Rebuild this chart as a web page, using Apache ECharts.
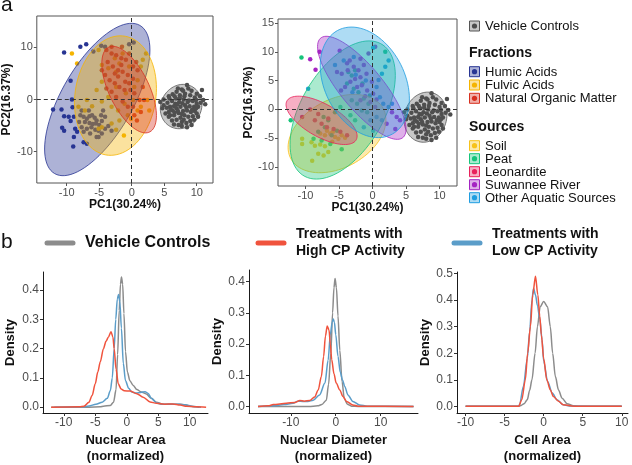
<!DOCTYPE html>
<html>
<head>
<meta charset="utf-8">
<script src="https://cdn.jsdelivr.net/npm/echarts@6.0.0/dist/echarts.min.js"></script>
<style>
  html, body { margin: 0; padding: 0; background: #fff; }
  #chart { width: 632px; height: 465px; }
</style>
</head>
<body>
<div id="chart"></div>
<script>
const FONT = "'Liberation Sans', Arial, Helvetica, sans-serif";

// ---- panel a: PCA scores (PC1, PC2) ----
const vehiclePts = [
  [8.5,2.8],[7.7,1.9],[6.9,1.5],[6.3,1.0],[5.7,0.6],[4.9,0.0],[9.2,1.7],[10.0,1.1],[10.5,0.6],[9.7,0.4],
  [9.0,0.8],[8.2,1.1],[7.4,0.8],[6.8,0.2],[6.2,-0.3],[5.5,-0.6],[4.9,-1.1],[5.9,-1.4],[6.7,-0.8],[7.3,-0.5],
  [8.0,0.0],[8.6,-0.5],[9.4,-0.3],[10.0,-0.8],[10.6,-0.6],[11.0,-0.1],[10.2,-1.4],[9.6,-1.4],[8.9,-1.3],[8.2,-1.1],
  [7.5,-1.4],[6.9,-1.7],[6.3,-2.1],[5.7,-2.4],[5.2,-2.7],[5.9,-3.0],[6.5,-3.0],[7.2,-2.6],[7.9,-2.2],[8.5,-2.1],
  [9.1,-2.4],[9.7,-2.2],[10.0,-2.7],[9.4,-3.2],[8.7,-3.3],[8.1,-3.0],[7.5,-3.5],[6.9,-3.9],[6.2,-4.0],[7.7,-4.3],
  [8.4,-4.5],[9.0,-4.1],[9.6,-3.9],[8.5,-5.3],[7.7,-5.1],[7.2,-4.9],[6.5,-4.8],[10.2,-3.3],[9.2,-4.9],[5.7,-3.3],
  [4.7,-1.7],[4.4,-0.5],[5.8,0.2],[7.9,1.7],[8.7,2.1],[7.1,2.1],[9.9,-0.1],[8.1,0.6],[6.5,-1.3],[11.3,-0.9],
  [10.8,1.8],[7.0,-0.9],[7.8,-0.7],[8.4,-1.6],[7.1,-2.2],[8.8,-0.2],[6.0,-1.9],[7.4,0.3],[9.3,-1.9],[6.6,0.6],
  [8.0,-3.9],[5.4,-1.6],[7.7,-2.8],[9.9,-1.7],[6.6,-2.5]
];

// Fractions
const humicPts = [
  [-10.4,9.0],[-7.9,10.1],[-7.0,10.6],[-9.4,3.6],[-9.2,0.0],[-9.1,-1.5],[-12.1,-1.9],[-10.8,-1.9],[-10.4,-3.2],[-9.7,-3.3],
  [-8.9,-3.3],[-10.7,-5.4],[-10.4,-6.0],[-8.7,-5.6],[-8.4,-6.2],[-8.9,-7.2],[-9.0,-9.0],[-7.4,-8.2],[-6.9,-8.5],[-9.4,-4.1],
  [-7.9,-3.0],[-7.4,-3.3],[-6.9,-3.7],[-6.5,-3.2],[-6.1,-3.0],[-5.7,-3.5],[-5.4,-4.0],[-7.2,-4.3],[-6.5,-4.5],[-6.0,-4.7],
  [-5.5,-4.6],[-5.0,-4.9],[-4.6,-4.1],[-7.7,-5.3],[-6.9,-5.6],[-6.2,-5.3],[-5.6,-5.8],[-5.1,-6.0],[-4.6,-6.5],[-4.1,-5.6],
  [-3.6,-5.1],[-3.1,-6.0],[-6.4,-6.5],[-5.4,-7.2],[-7.4,-6.2],[-8.1,-4.3],[-4.7,-3.0],[-4.1,-3.3],[-6.6,-2.1],[-7.7,-2.1],
  [-4.4,-2.1],[-5.1,-7.2],[-4.7,10.3],[-4.1,10.1],[-0.4,10.6],[0.3,10.9],[-5.9,9.2]
];
const fulvicPts = [
  [-9.2,8.8],[-8.4,6.9],[-5.1,9.5],[-4.6,6.6],[-3.6,6.0],[-2.6,7.9],[-1.9,6.9],[-1.4,8.8],[-2.4,5.3],[-4.6,3.4],
  [-5.4,1.8],[-6.9,-0.1],[-6.1,-1.3],[-4.6,-0.4],[-3.6,0.5],[-3.1,-1.4],[-2.1,-2.1],[-1.1,-0.8],[-0.6,-3.0],[-1.9,-4.0],
  [-3.1,-4.6],[-4.6,-5.3],[-5.1,-5.6],[-2.4,-5.8],[-1.2,-6.9],[-0.1,-3.7],[0.9,-2.1],[1.4,-1.4],[2.4,-0.1],[2.7,-2.1],
  [1.7,7.6],[2.2,8.8],[1.4,6.3],[-0.4,6.3],[-7.2,-2.1],[-8.2,-1.4],[-2.4,2.4],[-0.9,1.2],[0.4,2.4],[0.9,3.7],[0.2,-0.1]
];
const nomPts = [
  [-3.9,9.5],[-3.1,8.8],[-2.4,8.5],[-1.6,7.9],[-0.9,7.6],[-3.7,7.2],[-2.9,6.3],[-2.1,5.6],[-1.4,5.3],[-0.6,4.7],
  [0.2,4.0],[-4.1,4.7],[-3.4,3.7],[-2.6,3.1],[-1.9,2.4],[-1.1,1.8],[-0.4,3.1],[0.4,1.2],[1.2,-0.1],[1.4,-2.4],
  [0.4,-3.0],[-0.6,-1.4],[-1.4,-0.4],[-2.4,0.5],[-3.1,1.5],[-3.9,2.1],[-1.0,3.4],[-0.2,1.8],[-2.1,4.4],[-1.6,6.6],
  [-2.6,5.0],[0.2,6.3],[-4.6,5.6],[-3.1,10.1],[-1.5,10.1],[-0.4,8.8],[0.7,7.2],[0.9,5.6],[1.7,2.4],[1.9,-0.1],
  [0.2,-1.4],[0.8,-4.0]
];

// Sources
const soilPts = [
  [-10.5,-5.1],[-10.5,-6.0],[-9.1,-5.7],[-8.6,-6.3],[-7.8,-6.1],[-7.1,-6.4],[-8.1,-7.7],[-7.3,-8.0],[-6.6,-7.4],[-9.0,-8.9],
  [-5.6,-4.8],[-6.3,-4.2],[-7.1,-4.5],[-4.6,-4.5],[-5.1,-5.1],[-4.1,-4.9],[-6.8,-3.7],[-7.8,-4.2],[-5.9,-3.9],[-6.0,-5.6]
];
const peatPts = [
  [-10.6,9.0],[-12.2,-1.9],[-8.8,-5.1],[-7.6,-5.4],[-4.6,-6.9],[-6.3,-6.0],[-3.6,6.5],[-3.1,5.9],[-2.6,6.8],[-3.8,4.5],
  [-2.8,3.6],[-2.1,3.0],[-1.3,1.9],[-0.6,1.0],[-2.3,1.0],[-3.1,1.6],[-1.6,-0.2],[-3.3,-1.0],[-2.6,-1.9],[-4.8,0.4],
  [-5.6,-0.5],[-7.1,-3.1],[-6.6,-1.9],[-8.1,-3.9],[-0.8,-0.5],[-6.1,-4.5],[-5.3,-3.7],[-7.3,-1.3],[1.9,10.0],[-1.5,4.5],
  [-0.4,2.4]
];
const leonarditePts = [
  [-9.3,0.0],[-10.5,-1.3],[-8.6,-1.9],[-7.6,-2.5],[-6.8,-3.1],[-5.8,-3.4],[-4.8,-3.9],[-8.1,-0.8],[-6.6,-1.6],[-3.8,-4.5]
];
const suwanneePts = [
  [-9.3,8.7],[-7.9,10.0],[-8.5,6.9],[-4.9,10.2],[-3.4,8.5],[-5.3,6.5],[-4.6,6.2],[-3.7,6.8],[-2.8,7.4],[-2.1,6.8],
  [-1.3,7.7],[-0.9,6.2],[-1.8,5.6],[-2.6,5.3],[-3.3,4.8],[-4.1,3.9],[-4.7,3.3],[-2.3,3.9],[-1.6,4.2],[-0.8,3.3],
  [-0.1,4.8],[0.1,2.7],[-1.1,2.3],[-1.8,1.6],[-0.3,1.3],[0.4,0.4],[0.6,1.7],[-3.8,8.0],[-1.8,8.8],[-0.6,9.7],
  [0.4,10.9],[2.9,-0.5],[3.6,-1.3],[4.1,-1.9],[3.4,-3.4],[2.1,-2.5]
];
const otherPts = [
  [-9.6,3.6],[0.1,10.7],[2.4,8.5],[1.9,7.4],[1.4,6.2],[0.9,5.1],[0.6,3.9],[-4.3,8.5],[-2.8,9.1],[-5.6,7.7],
  [1.1,2.1],[1.6,1.0],[2.4,0.4],[2.9,1.0],[0.6,-1.3],[-0.3,-1.9],[-1.3,-3.1],[0.1,-3.7],[1.4,-1.9],[-2.5,6.0],
  [-1.0,5.0],[-3.0,3.0]
];

// confidence ellipses: [centre x, centre y, half width, half height, correlation]
const vehicleEllipseA = [7.6, -1.35, 3.2, 4.25, 0.1];
const vehicleEllipseB = [7.9, -1.35, 3.2, 4.35, 0.1];
const fractionEllipses = [
  [-5.3, 0.0, 8.1, 14.6, 0.65],
  [-2.5, 0.75, 6.3, 11.45, 0.12],
  [-0.4, 1.9, 4.2, 8.3, -0.6]
];
const sourceEllipses = [
  [-5.3, -4.2, 7.3, 6.8, 0.35],
  [-4.45, -0.1, 7.85, 12.0, 0.5],
  [-7.6, -1.9, 5.3, 4.2, -0.65],
  [-1.6, 3.75, 6.6, 8.95, -0.8],
  [-1.15, 4.7, 6.65, 9.6, -0.3]
];

const fractionNames = ['Humic Acids', 'Fulvic Acids', 'Natural Organic Matter'];
const fractionColors = ['#283593', '#f5b400', '#d7301f'];
const fractionPts = [humicPts, fulvicPts, nomPts];
const sourceNames = ['Soil', 'Peat', 'Leonardite', 'Suwannee River', 'Other Aquatic Sources'];
const sourceColors = ['#f7c21b', '#16c47a', '#e8215b', '#a424c2', '#1f9de0'];
const sourcePts = [soilPts, peatPts, leonarditePts, suwanneePts, otherPts];

// ---- panel b: density curves ([normalized value, density]) ----
const areaVehicle = [[-12,0],[-6,0],[-4.2,0.001],[-3.7,0.003],[-2.6,0.006],[-2.1,0.017],[-1.7,0.06],[-1.45,0.18],[-1.2,0.33],[-1.0,0.42],[-0.84,0.445],[-0.65,0.42],[-0.45,0.32],[-0.2,0.19],[0.1,0.12],[0.5,0.09],[1.0,0.075],[1.6,0.06],[2.3,0.052],[3.1,0.045],[3.9,0.03],[4.7,0.017],[5.8,0.01],[7,0.01],[8.4,0.01],[9.3,0.008],[10,0.003],[11.5,0]];
const areaLow = [[-11.5,0],[-7,0.001],[-6,0.004],[-4.9,0.01],[-3.9,0.017],[-3.1,0.03],[-2.6,0.057],[-2.3,0.1],[-2.0,0.2],[-1.75,0.3],[-1.5,0.37],[-1.3,0.385],[-1.1,0.36],[-0.85,0.27],[-0.55,0.15],[-0.2,0.09],[0.3,0.065],[0.8,0.052],[1.5,0.048],[2.2,0.05],[2.9,0.053],[3.4,0.047],[3.9,0.03],[4.7,0.015],[5.5,0.01],[7,0.01],[8.4,0.01],[9.5,0.007],[10.5,0.002],[11.8,0]];
const areaHigh = [[-12,0],[-7.5,0.001],[-6.8,0.003],[-6.0,0.017],[-5.5,0.04],[-5.0,0.08],[-4.6,0.12],[-4.2,0.155],[-3.7,0.2],[-3.3,0.225],[-2.9,0.24],[-2.5,0.258],[-2.2,0.24],[-2.0,0.2],[-1.7,0.13],[-1.35,0.08],[-0.9,0.062],[-0.4,0.056],[0.5,0.055],[1.6,0.046],[2.6,0.034],[3.7,0.018],[4.7,0.013],[6.0,0.01],[7.3,0.011],[8.5,0.007],[9.5,0.003],[11,0.001],[12.6,0]];

const diamVehicle = [[-17.3,0],[-6,0],[-4,0.002],[-3.1,0.006],[-2.1,0.02],[-1.6,0.07],[-1.1,0.17],[-0.7,0.3],[-0.4,0.38],[-0.15,0.41],[0.15,0.38],[0.5,0.29],[0.9,0.18],[1.4,0.08],[1.9,0.025],[2.6,0.007],[3.5,0.001],[5,0],[17.3,0]];
const diamLow = [[-17.3,0],[-14,0.002],[-11.5,0.006],[-9.5,0.01],[-8.4,0.017],[-7.3,0.016],[-6.2,0.016],[-5.0,0.02],[-3.6,0.037],[-2.4,0.075],[-1.7,0.148],[-1.2,0.23],[-0.8,0.27],[-0.55,0.28],[-0.3,0.27],[0.0,0.23],[0.5,0.16],[1.0,0.11],[1.5,0.085],[2.0,0.064],[2.7,0.037],[3.8,0.016],[5.3,0.005],[7,0.001],[17.3,0]];
const diamHigh = [[-17.3,0],[-15,0.002],[-13.9,0.006],[-11,0.01],[-9,0.013],[-8,0.019],[-7,0.017],[-5.8,0.019],[-4.7,0.03],[-3.9,0.053],[-3.2,0.096],[-2.7,0.16],[-2.3,0.225],[-1.9,0.258],[-1.5,0.245],[-1.2,0.2],[-0.9,0.15],[-0.4,0.105],[0.1,0.075],[0.9,0.053],[1.6,0.032],[2.4,0.016],[3.8,0.005],[5,0.001],[17.3,0]];

const cellVehicle = [[-10,0],[-3.2,0],[-3.0,0.002],[-2.5,0.01],[-2.1,0.025],[-1.8,0.06],[-1.5,0.1],[-1.1,0.2],[-0.8,0.3],[-0.45,0.375],[0.0,0.395],[0.5,0.375],[0.85,0.3],[1.15,0.2],[1.5,0.112],[1.9,0.062],[2.35,0.031],[3.0,0.01],[3.8,0.002],[4.5,0],[10,0]];
const cellLow = [[-10,0],[-3.3,0],[-3.1,0.005],[-2.6,0.075],[-2.1,0.18],[-1.8,0.28],[-1.5,0.4],[-1.3,0.445],[-1.05,0.42],[-0.8,0.38],[-0.5,0.33],[-0.2,0.25],[0.0,0.17],[0.5,0.094],[1.1,0.05],[1.7,0.025],[2.5,0.006],[3.5,0.001],[10,0]];
const cellHigh = [[-10,0],[-3.2,0],[-2.8,0.025],[-2.35,0.1],[-2.05,0.2],[-1.7,0.3],[-1.4,0.42],[-1.05,0.49],[-0.75,0.42],[-0.5,0.34],[-0.3,0.27],[0.0,0.18],[0.4,0.1],[0.85,0.062],[1.25,0.037],[1.9,0.019],[2.5,0.006],[3.9,0],[10,0]];

const densityNames = ['Nuclear Area\n(normalized)', 'Nuclear Diameter\n(normalized)', 'Cell Area\n(normalized)'];
const densityData = [
  [areaVehicle, areaLow, areaHigh],
  [diamVehicle, diamLow, diamHigh],
  [cellVehicle, cellLow, cellHigh]
];
const lineColors = ['#8c8c8c', '#5b9dc9', '#f0533d']; // vehicle, low CP, high CP

const pcTicksX = [-10, -5, 0, 5, 10];
const pcTicksYA = [-10, 0, 10];
const pcTicksYB = [-10, -5, 0, 5, 10, 15];
const densTicksX = [[-10, -5, 0, 5, 10], [-10, 0, 10], [-10, -5, 0, 5, 10]];
const densTicksY = [[0, 0.1, 0.2, 0.3, 0.4], [0, 0.1, 0.2, 0.3, 0.4], [0, 0.1, 0.2, 0.3, 0.4, 0.5]];

function rgba(hex, a) {
  const n = parseInt(hex.slice(1), 16);
  return 'rgba(' + (n >> 16) + ',' + ((n >> 8) & 255) + ',' + (n & 255) + ',' + a + ')';
}

function ellipseSeries(gi, params, color, fillAlpha, z) {
  return {
    type: 'custom',
    xAxisIndex: gi,
    yAxisIndex: gi,
    silent: true,
    z: z,
    data: [params],
    renderItem: function (p, api) {
      const cx = api.value(0), cy = api.value(1), hx = api.value(2), hy = api.value(3), r = api.value(4);
      const k = Math.sqrt(1 - r * r);
      const pts = [];
      for (let i = 0; i <= 90; i++) {
        const t = (i / 90) * Math.PI * 2;
        const c = Math.cos(t), s = Math.sin(t);
        pts.push(api.coord([cx + hx * c, cy + hy * (r * c + k * s)]));
      }
      return {
        type: 'polygon',
        shape: { points: pts },
        style: { fill: rgba(color, fillAlpha), stroke: color, lineWidth: 0.8 }
      };
    }
  };
}

function pointSeries(gi, data, color) {
  return {
    type: 'scatter', xAxisIndex: gi, yAxisIndex: gi, data: data,
    symbolSize: 4.5, itemStyle: { color: color, opacity: 1 }, z: 2, silent: true
  };
}

function zeroLines(gi) {
  return {
    type: 'scatter', xAxisIndex: gi, yAxisIndex: gi, data: [[0, 0]], symbolSize: 0, z: 10, silent: true,
    markLine: {
      silent: true, symbol: ['none', 'none'], label: { show: false },
      lineStyle: { color: '#333', type: [4, 3], width: 1 },
      data: [{ xAxis: 0 }, { yAxis: 0 }]
    }
  };
}

const tickLabel = { fontFamily: FONT, color: '#4d4d4d' };
const boldName = { fontFamily: FONT, fontWeight: 'bold', color: '#111' };

function pcX(gi, min, max) {
  return {
    gridIndex: gi, type: 'value', min: min, max: max,
    name: 'PC1(30.24%)', nameLocation: 'middle', nameGap: 16,
    nameTextStyle: Object.assign({ fontSize: 12 }, boldName),
    axisLine: { show: false, onZero: false },
    axisTick: { show: true, inside: false, length: 3, customValues: pcTicksX, lineStyle: { color: '#555' } },
    axisLabel: Object.assign({ customValues: pcTicksX, fontSize: 11, margin: 4 }, tickLabel),
    splitLine: { show: false }
  };
}
function pcY(gi, min, max, ticks, gap) {
  return {
    gridIndex: gi, type: 'value', min: min, max: max,
    name: 'PC2(16.37%)', nameLocation: 'middle', nameGap: gap,
    nameTextStyle: Object.assign({ fontSize: 12 }, boldName),
    axisLine: { show: false, onZero: false },
    axisTick: { show: true, inside: false, length: 3, customValues: ticks, lineStyle: { color: '#555' } },
    axisLabel: Object.assign({ customValues: ticks, fontSize: 11, margin: 4 }, tickLabel),
    splitLine: { show: false }
  };
}
function densX(gi, min, max, ticks, name) {
  return {
    gridIndex: gi, type: 'value', min: min, max: max,
    name: name, nameLocation: 'middle', nameGap: 19,
    nameTextStyle: Object.assign({ fontSize: 13, lineHeight: 16 }, boldName),
    axisLine: { show: true, onZero: false, lineStyle: { color: '#1a1a1a', width: 1 } },
    axisTick: { show: true, inside: false, length: 3, customValues: ticks, lineStyle: { color: '#333' } },
    axisLabel: Object.assign({ customValues: ticks, fontSize: 12, margin: 4 }, tickLabel),
    splitLine: { show: false }
  };
}
function densY(gi, min, max, ticks, gap) {
  return {
    gridIndex: gi, type: 'value', min: min, max: max,
    name: 'Density', nameLocation: 'middle', nameGap: gap,
    nameTextStyle: Object.assign({ fontSize: 13 }, boldName),
    axisLine: { show: true, onZero: false, lineStyle: { color: '#1a1a1a', width: 1 } },
    axisTick: { show: true, inside: false, length: 3, customValues: ticks, lineStyle: { color: '#333' } },
    axisLabel: Object.assign({ customValues: ticks, fontSize: 12, margin: 4, formatter: (v) => v.toFixed(1) }, tickLabel),
    splitLine: { show: false }
  };
}

const series = [];
// left PCA: fractions
fractionPts.forEach((pts, i) => series.push(pointSeries(0, pts, fractionColors[i])));
series.push(pointSeries(0, vehiclePts, '#4d4d4d'));
series.push(ellipseSeries(0, vehicleEllipseA, '#555555', 0.32, 3));
fractionEllipses.forEach((e, i) => series.push(ellipseSeries(0, e, fractionColors[i], 0.38, 3)));
series.push(zeroLines(0));
// right PCA: sources
sourcePts.forEach((pts, i) => series.push(pointSeries(1, pts, sourceColors[i])));
series.push(pointSeries(1, vehiclePts.map((p) => [p[0] + 0.3, p[1]]), '#4d4d4d'));
series.push(ellipseSeries(1, vehicleEllipseB, '#555555', 0.32, 3));
sourceEllipses.forEach((e, i) => series.push(ellipseSeries(1, e, sourceColors[i], 0.36, 3)));
series.push(zeroLines(1));
// density curves
densityData.forEach((set, k) => {
  set.forEach((d, j) => {
    series.push({
      type: 'line', xAxisIndex: 2 + k, yAxisIndex: 2 + k, data: d,
      showSymbol: false, symbol: 'none', smooth: 0.3, smoothMonotone: 'x', silent: true,
      lineStyle: { color: lineColors[j], width: 1.5 }, itemStyle: { color: lineColors[j] }, z: 2 + j
    });
  });
});

// legend (right of panel a) and panel b key
const graphic = [];
function txt(x, y, text, size, weight, align, vAlign, lh) {
  graphic.push({
    type: 'text', silent: true,
    style: {
      x: x, y: y, text: text, fill: '#111',
      font: (weight || 'normal') + ' ' + size + 'px ' + FONT,
      align: align || 'left', verticalAlign: vAlign || 'middle', lineHeight: lh || size
    }
  });
}
function key(y, color, fillAlpha, dotColor) {
  graphic.push({ type: 'rect', silent: true, shape: { x: 469.5, y: y - 5, width: 10, height: 10 },
    style: { fill: rgba(color, fillAlpha), stroke: color, lineWidth: 1 } });
  graphic.push({ type: 'circle', silent: true, shape: { cx: 474.5, cy: y, r: 2.6 }, style: { fill: dotColor || color } });
}
txt(1, -5, 'a', 21, 'normal', 'left', 'top');
txt(1, 232, 'b', 21, 'normal', 'left', 'top');
key(26, '#555555', 0.32, '#4d4d4d');
txt(485, 26.5, 'Vehicle Controls', 13);
txt(469, 53, 'Fractions', 14, 'bold');
const fracY = [71.7, 85, 98.3];
fractionNames.forEach((n, i) => { key(fracY[i], fractionColors[i], 0.38); txt(485, fracY[i] + 0.5, n, 13); });
txt(469, 127.5, 'Sources', 14, 'bold');
const srcY = [145.7, 158.7, 171.7, 184.7, 197.7];
sourceNames.forEach((n, i) => { key(srcY[i], sourceColors[i], 0.36); txt(485, srcY[i] + 0.5, n, 13); });

const bKeys = [
  { x: 45, color: lineColors[0], text: 'Vehicle Controls', size: 16 },
  { x: 256, color: lineColors[2], text: 'Treatments with\nHigh CP Activity', size: 14 },
  { x: 452, color: lineColors[1], text: 'Treatments with\nLow CP Activity', size: 14 }
];
bKeys.forEach((k) => {
  graphic.push({ type: 'line', silent: true, shape: { x1: k.x + 2, y1: 243, x2: k.x + 28, y2: 243 },
    style: { stroke: k.color, lineWidth: 5, lineCap: 'round' } });
  txt(k.x + 40, 243, k.text, k.size, 'bold', 'left', 'middle', 17);
});

const option = {
  animation: false,
  backgroundColor: '#ffffff',
  textStyle: { fontFamily: FONT },
  grid: [
    { left: 34, top: 16, width: 179, height: 167, show: true, borderColor: '#555', borderWidth: 1, backgroundColor: 'transparent' },
    { left: 278, top: 19, width: 179, height: 167, show: true, borderColor: '#555', borderWidth: 1, backgroundColor: 'transparent' },
    { left: 43, top: 272, width: 165, height: 141 },
    { left: 249, top: 270, width: 169, height: 143 },
    { left: 457, top: 272, width: 171, height: 141 }
  ],
  xAxis: [
    pcX(0, -14.6, 12.5),
    pcX(1, -14.1, 12.6),
    densX(2, -13.3, 12.9, densTicksX[0], densityNames[0]),
    densX(3, -19.3, 18.3, densTicksX[1], densityNames[1]),
    densX(4, -11.1, 10.8, densTicksX[2], densityNames[2])
  ],
  yAxis: [
    pcY(0, -16, 16, pcTicksYA, 14),
    pcY(1, -13.3, 15.7, pcTicksYB, 22),
    densY(2, -0.02, 0.462, densTicksY[0], 26),
    densY(3, -0.021, 0.437, densTicksY[1], 24),
    densY(4, -0.025, 0.506, densTicksY[2], 25)
  ],
  series: series,
  graphic: graphic
};

const chart = echarts.init(document.getElementById('chart'), null, { renderer: 'canvas' });
chart.setOption(option);
</script>
</body>
</html>
